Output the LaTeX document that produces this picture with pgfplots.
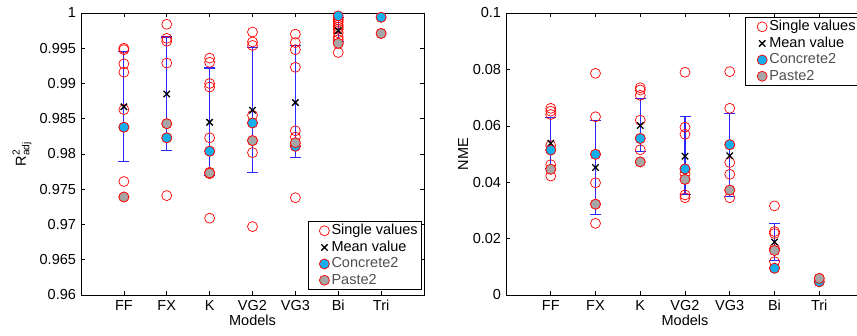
\documentclass[border=0pt]{standalone}
\usepackage{amsmath}
\usepackage{fontspec}
\setmainfont{Liberation Sans}
\usepackage{pgfplots}
\pgfplotsset{compat=1.18}
\definecolor{cblue}{RGB}{20,175,235}
\definecolor{pgray}{RGB}{166,166,166}
\definecolor{lgtext}{RGB}{80,80,80}
\definecolor{ebblue}{RGB}{40,40,255}
\begin{document}
\fontsize{14.5}{17}\selectfont
\begin{tikzpicture}
\pgfplotsset{
  common/.style={
    scale only axis, anchor=south west, height=282pt,
    xmin=0, xmax=8, xtick={1,2,3,4,5,6,7},
    xticklabels={FF,FX,K,VG2,VG3,Bi,Tri},
    tick align=inside, major tick length=4pt, minor tick num=0,
    axis line style={line width=0.8pt}, every tick/.style={black, line width=0.6pt},
    /pgf/number format/assume math mode=true,
    font=\fontsize{14.5}{17}\selectfont,
    tick label style={font=\fontsize{14.5}{17}\selectfont},
    label style={font=\fontsize{14.5}{17}\selectfont},
    scaled y ticks=false,
    clip=false,
    xlabel={Models},
    xlabel style={at={(axis description cs:0.5,-0.089)}, anchor=center},
    legend cell align=left,
    legend style={draw=black, line width=1pt, font=\fontsize{14.5}{17}\selectfont, row sep=0pt, inner xsep=2pt, inner ysep=1pt},
    legend image code/.code={\path[draw=none,fill=none] (0cm,0cm) -- (0.68cm,0cm); \draw[#1] plot coordinates {(0.5cm,0cm)};},
  },
  singles/.style={only marks, mark=o, mark size=5pt, mark options={draw=red, line width=0.7pt}},
  means/.style={only marks, black, mark=x, mark size=4.5pt, mark options={draw=black, line width=1.3pt}},
  conc/.style={only marks, mark=*, mark size=5pt, mark options={draw=red, fill=cblue, line width=0.7pt}},
  paste/.style={only marks, mark=*, mark size=5pt, mark options={draw=red, fill=pgray, line width=0.7pt}},
  ebar/.style={forget plot, draw=ebblue, line width=1.2pt, mark=-, mark size=5.5pt, mark options={draw=ebblue, line width=1.1pt}},
}
% ---------------- left: R2 adj ----------------
\begin{axis}[common, at={(81pt,40pt)}, width=343pt,
  ymin=0.96, ymax=1,
  ytick={0.96,0.965,0.97,0.975,0.98,0.985,0.99,0.995,1},
  y tick label style={/pgf/number format/.cd, fixed, precision=3},
  ylabel={$\text{R}^{\text{2}}_{\text{adj}}$},
  ylabel style={at={(axis description cs:-0.172,0.5)}, anchor=center},
  legend style={at={(rel axis cs:0.995,0.018)}, anchor=south east},
]
\addplot[ebar] coordinates {(1,0.9790) (1,0.9946)};
\addplot[ebar] coordinates {(2,0.9805) (2,0.9966)};
\addplot[ebar] coordinates {(3,0.9770) (3,0.9922)};
\addplot[ebar] coordinates {(4,0.9774) (4,0.9951)};
\addplot[ebar] coordinates {(5,0.9795) (5,0.9954)};
\addplot[ebar] coordinates {(6,0.9960) (6,0.9993)};
\addplot[singles] coordinates {
  (1,0.9950) (1,0.9948) (1,0.9928) (1,0.9916) (1,0.9863) (1,0.9838) (1,0.9761) (1,0.9739)
  (2,0.9984) (2,0.9964) (2,0.9960) (2,0.9929) (2,0.9843) (2,0.9823) (2,0.9741)
  (3,0.9936) (3,0.9930) (3,0.9900) (3,0.9895) (3,0.9823) (3,0.9804) (3,0.9774) (3,0.9772) (3,0.9709)
  (4,0.9973) (4,0.9959) (4,0.9954) (4,0.9855) (4,0.9844) (4,0.9819) (4,0.9802) (4,0.9697)
  (5,0.9970) (5,0.9958) (5,0.9948) (5,0.9923) (5,0.9833) (5,0.9824) (5,0.9816) (5,0.9811) (5,0.9738)
  (6,0.9993) (6,0.9990) (6,0.9987) (6,0.9983) (6,0.9980) (6,0.9977) (6,0.9972) (6,0.9966) (6,0.9962) (6,0.9957) (6,0.9944)
  (7,0.9994) (7,0.9971)
};
\addlegendentry{Single values}
\addplot[means] coordinates {
  (1,0.9867) (2,0.9885) (3,0.9845) (4,0.9862) (5,0.9873) (6,0.9975)
};
\addlegendentry{Mean value}
\addplot[conc] coordinates {
  (1,0.9838) (2,0.9823) (3,0.9804) (4,0.9844) (5,0.9811) (6,0.9996) (7,0.9994)
};
\addlegendentry{\textcolor{lgtext}{Concrete2}}
\addplot[paste] coordinates {
  (1,0.9739) (2,0.9843) (3,0.9773) (4,0.9819) (5,0.9816) (6,0.9957) (7,0.9971)
};
\addlegendentry{\textcolor{lgtext}{Paste2}}
\end{axis}
% ---------------- right: NME ----------------
\begin{axis}[common, at={(506pt,40pt)}, width=358pt,
  ymin=0, ymax=0.1,
  ytick={0,0.02,0.04,0.06,0.08,0.1},
  y tick label style={/pgf/number format/.cd, fixed, precision=2},
  ylabel={NME},
  ylabel style={at={(axis description cs:-0.12,0.5)}, anchor=center},
  legend style={at={(rel axis cs:0.989,0.986)}, anchor=north east},
]
\addplot[ebar] coordinates {(1,0.0450) (1,0.0630)};
\addplot[ebar] coordinates {(2,0.0284) (2,0.0618)};
\addplot[ebar] coordinates {(3,0.0508) (3,0.0697)};
\addplot[ebar] coordinates {(4,0.0355) (4,0.0632)};
\addplot[ebar] coordinates {(5,0.0350) (5,0.0645)};
\addplot[ebar] coordinates {(6,0.0122) (6,0.0255)};
\addplot[singles] coordinates {
  (1,0.0662) (1,0.0652) (1,0.0640) (1,0.0530) (1,0.0514) (1,0.0462) (1,0.0446) (1,0.0422)
  (2,0.0786) (2,0.0632) (2,0.0499) (2,0.0398) (2,0.0322) (2,0.0254)
  (3,0.0735) (3,0.0727) (3,0.0708) (3,0.0620) (3,0.0555) (3,0.0515) (3,0.0472)
  (4,0.0790) (4,0.0595) (4,0.0570) (4,0.0447) (4,0.0430) (4,0.0410) (4,0.0355) (4,0.0345)
  (5,0.0792) (5,0.0662) (5,0.0533) (5,0.0470) (5,0.0428) (5,0.0372) (5,0.0345)
  (6,0.0316) (6,0.0225) (6,0.0218) (6,0.0165) (6,0.0158) (6,0.0118) (6,0.0095)
  (7,0.0059) (7,0.0047)
};
\addlegendentry{Single values}
\addplot[means] coordinates {
  (1,0.0538) (2,0.0452) (3,0.0601) (4,0.0492) (5,0.0494) (6,0.0188)
};
\addlegendentry{Mean value}
\addplot[conc] coordinates {
  (1,0.0514) (2,0.0499) (3,0.0555) (4,0.0447) (5,0.0533) (6,0.0095) (7,0.0047)
};
\addlegendentry{\textcolor{lgtext}{Concrete2}}
\addplot[paste] coordinates {
  (1,0.0446) (2,0.0322) (3,0.0472) (4,0.0410) (5,0.0372) (6,0.0158) (7,0.0059)
};
\addlegendentry{\textcolor{lgtext}{Paste2}}
\end{axis}
\pgfresetboundingbox
\useasboundingbox (0pt,0pt) rectangle (857pt,335pt);
\end{tikzpicture}
\end{document}
